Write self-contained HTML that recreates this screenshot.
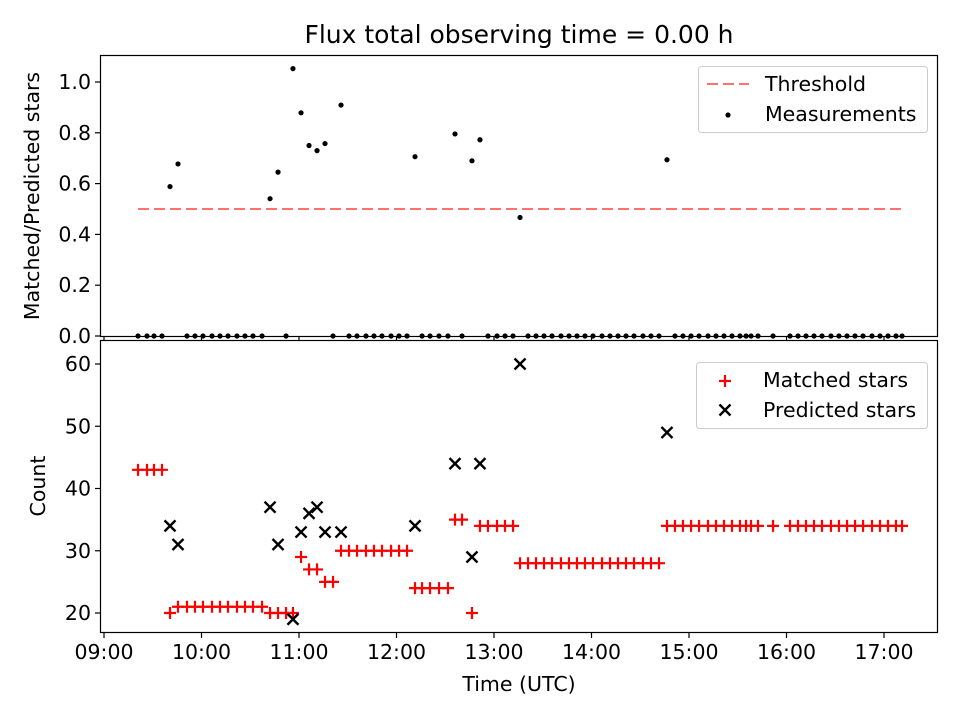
<!DOCTYPE html>
<html><head><meta charset="utf-8"><style>
body{margin:0;background:#fff}
svg text{font-family:"DejaVu Sans","Liberation Sans",sans-serif;fill:#000}
</style></head><body>
<svg id="chart" width="960" height="720" xmlns="http://www.w3.org/2000/svg">
<rect width="960" height="720" fill="#fff"/>
<text x="519" y="43" font-size="25" text-anchor="middle">Flux total observing time = 0.00 h</text>
<g id="topG"></g><g id="botG"></g>
</svg>
<script>
const times=[9.349,9.441,9.513,9.595,9.677,9.759,9.851,9.933,10.015,10.108,10.190,10.272,10.364,10.446,10.528,10.621,10.703,10.785,10.867,10.938,11.021,11.103,11.185,11.267,11.349,11.431,11.513,11.595,11.687,11.769,11.851,11.944,12.026,12.108,12.190,12.262,12.344,12.436,12.528,12.600,12.672,12.774,12.856,12.938,13.031,13.113,13.195,13.267,13.349,13.431,13.513,13.595,13.687,13.769,13.851,13.933,14.015,14.108,14.190,14.272,14.354,14.436,14.528,14.610,14.692,14.774,14.856,14.938,15.021,15.103,15.195,15.277,15.359,15.441,15.523,15.585,15.636,15.708,15.862,16.036,16.118,16.200,16.282,16.364,16.456,16.538,16.621,16.703,16.785,16.877,16.959,17.041,17.123,17.185];
const matched=[43,43,43,43,20,21,21,21,21,21,21,21,21,21,21,21,20,20,20,20,29,27,27,25,25,30,30,30,30,30,30,30,30,30,24,24,24,24,24,35,35,20,34,34,34,34,34,28,28,28,28,28,28,28,28,28,28,28,28,28,28,28,28,28,28,34,34,34,34,34,34,34,34,34,34,34,34,34,34,34,34,34,34,34,34,34,34,34,34,34,34,34,34,34];
const predicted=[null,null,null,null,34,31,null,null,null,null,null,null,null,null,null,null,37,31,null,19,33,36,37,33,null,33,null,null,null,null,null,null,null,null,34,null,null,null,null,44,null,29,44,null,null,null,null,60,null,null,null,null,null,null,null,null,null,null,null,null,null,null,null,null,null,49,null,null,null,null,null,null,null,null,null,null,null,null,null,null,null,null,null,null,null,null,null,null,null,null,null,null,null,null];
const threshold=[0.5];
const topTicks=[0,0.2,0.4,0.6,0.8,1.0];
const botTicks=[20,30,40,50,60];
const xTicks=[9,10,11,12,13,14,15,16,17];
const xTickLabels=["09:00","10:00","11:00","12:00","13:00","14:00","15:00","16:00","17:00"];

const NS="http://www.w3.org/2000/svg";
const FS=20.5;
const X=h=>104+(h-9)*97.5;
const YT=v=>336-v*254;
const YB=v=>613-(v-20)*6.225;
function mk(parent,tag,attrs,text){const el=document.createElementNS(NS,tag);for(const k in attrs)el.setAttribute(k,attrs[k]);if(text!==undefined)el.textContent=text;parent.appendChild(el);return el;}
const topG=document.getElementById('topG'),botG=document.getElementById('botG');

let e;
e=mk(topG,'rect',{x:100.5,y:55.5,width:837,height:281,fill:'none',stroke:'#000','stroke-width':1.2});


topTicks.forEach(v=>{const y=YT(v);
 e=mk(topG,'line',{x1:95,x2:100,y1:y,y2:y,stroke:'#000','stroke-width':1.2});
 
 
 e=mk(topG,'text',{x:91,y:y+7,'font-size':FS,'text-anchor':'end'},v.toFixed(1));
 
 
});
xTicks.forEach(h=>{const x=X(h);
 e=mk(topG,'line',{x1:x,x2:x,y1:336,y2:341,stroke:'#000','stroke-width':1.2});
 
 
});
e=mk(topG,'text',{x:39,y:196,'font-size':FS,'text-anchor':'middle',transform:'rotate(-90 39 196)'},'Matched/Predicted stars');


e=mk(topG,'line',{x1:X(times[0]),x2:X(times[times.length-1]),y1:YT(threshold[0]),y2:YT(threshold[0]),stroke:'#ff7070','stroke-width':2,'stroke-dasharray':'11,5'});


times.forEach((t,i)=>{const r=predicted[i]?matched[i]/predicted[i]:0;
 e=mk(topG,'circle',{cx:X(t),cy:YT(r),r:2.6,fill:'#000'});
 
 
});
const lg1=mk(topG,'g',{});


mk(lg1,'rect',{x:698.5,y:66.5,width:229,height:66,rx:3,fill:'#fff','fill-opacity':0.8,stroke:'#ccc'});
mk(lg1,'line',{x1:707,x2:749,y1:84,y2:84,stroke:'#ff7070','stroke-width':2,'stroke-dasharray':'11,5'});
mk(lg1,'text',{x:765,y:91,'font-size':FS},'Threshold');
mk(lg1,'circle',{cx:728,cy:115,r:2.6,fill:'#000'});
mk(lg1,'text',{x:765,y:121,'font-size':FS},'Measurements');

e=mk(botG,'rect',{x:100.5,y:340.5,width:837,height:292,fill:'none',stroke:'#000','stroke-width':1.2});


botTicks.forEach(v=>{const y=YB(v);
 e=mk(botG,'line',{x1:95,x2:100,y1:y,y2:y,stroke:'#000','stroke-width':1.2});
 
 
 e=mk(botG,'text',{x:91,y:y+7,'font-size':FS,'text-anchor':'end'},String(v));
 
 
});
xTicks.forEach((h,i)=>{const x=X(h);
 e=mk(botG,'line',{x1:x,x2:x,y1:633,y2:638,stroke:'#000','stroke-width':1.2});
 
 
 e=mk(botG,'text',{x:x,y:659,'font-size':FS,'text-anchor':'middle'},xTickLabels[i]);
 
 
});
e=mk(botG,'text',{x:519,y:691,'font-size':FS,'text-anchor':'middle'},'Time (UTC)');


e=mk(botG,'text',{x:45,y:486,'font-size':FS,'text-anchor':'middle',transform:'rotate(-90 45 486)'},'Count');


function plus(g,x,y){mk(g,'path',{d:`M${x-6} ${y}H${x+6}M${x} ${y-6}V${y+6}`,stroke:'#f00','stroke-width':2.2,fill:'none'});}
function cross(g,x,y){mk(g,'path',{d:`M${x-5.5} ${y-5.5}L${x+5.5} ${y+5.5}M${x-5.5} ${y+5.5}L${x+5.5} ${y-5.5}`,stroke:'#000','stroke-width':2.4,fill:'none'});}
times.forEach((t,i)=>{
 const g=mk(botG,'g',{});
 
 
 plus(g,X(t),YB(matched[i]));
});
times.forEach((t,i)=>{ if(predicted[i]==null)return;
 const g=mk(botG,'g',{});
 
 
 cross(g,X(t),YB(predicted[i]));
});
const lg2=mk(botG,'g',{});


mk(lg2,'rect',{x:696.5,y:362.5,width:231,height:66,rx:3,fill:'#fff','fill-opacity':0.8,stroke:'#ccc'});
plus(lg2,725,381);
mk(lg2,'text',{x:763,y:387,'font-size':FS},'Matched stars');
cross(lg2,725,410);
mk(lg2,'text',{x:763,y:417,'font-size':FS},'Predicted stars');
</script>
</body></html>
